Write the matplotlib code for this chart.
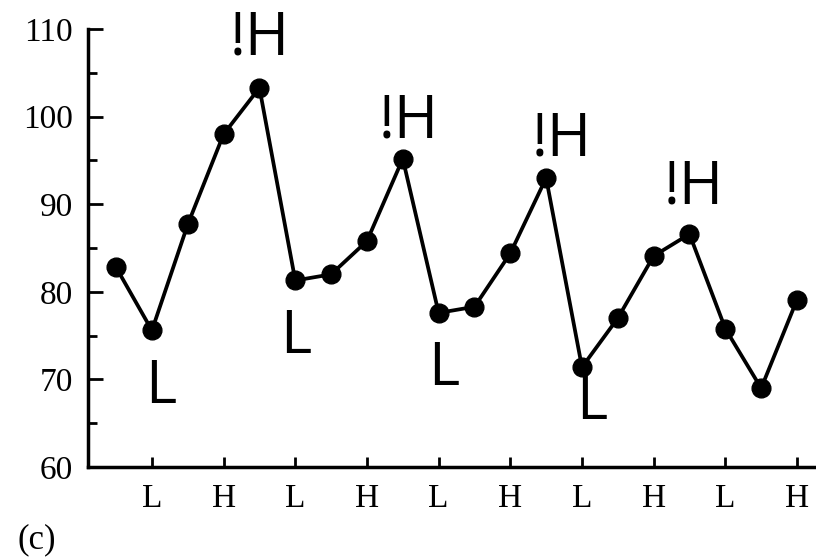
"""
Pitch track with tonal labels (panel c)
"""
import matplotlib
matplotlib.use('Agg')
import matplotlib.pyplot as plt
from matplotlib.ticker import MultipleLocator

# syllable index and f0 values
positions = [1, 2, 3, 4, 5, 6, 7, 8, 9, 10, 11, 12, 13, 14, 15, 16, 17, 18, 19, 20]
f0_values = [82.8, 75.6, 87.7, 98.0, 103.3, 81.3, 82.0, 85.8, 95.2, 77.6,
             78.3, 84.4, 93.0, 71.4, 77.0, 84.1, 86.6, 75.8, 69.0, 79.1]

tick_positions = [2, 4, 6, 8, 10, 12, 14, 16, 18, 20]
tick_labels = ['L', 'H', 'L', 'H', 'L', 'H', 'L', 'H', 'L', 'H']

# tone annotations: (label, point index, dx, dy) baseline offsets in points
tone_marks = [
    ('!H', 5, 0, 24), ('!H', 9, 4, 15), ('!H', 13, 11, 16.5), ('!H', 17, 3, 22),
    ('L', 2, 6, -52.5), ('L', 6, 0, -52), ('L', 10, 4, -52), ('L', 14, 7, -37),
]

serif = 'Liberation Serif'
sans = 'Open Sans'

fig = plt.figure(figsize=(8.16, 5.6), dpi=100)
ax = fig.add_axes([0.108, 0.166, 0.892, 0.782])

ax.plot(positions, f0_values, color='black', linewidth=2.7,
        marker='o', markersize=13.5, markerfacecolor='black', markeredgecolor='black')

for label, idx, dx, dy in tone_marks:
    ax.annotate(label, (positions[idx - 1], f0_values[idx - 1]),
                xytext=(dx, dy), textcoords='offset points',
                ha='center', va='baseline', fontsize=43, family=sans, color='black')

ax.set_xlim(0.22, 20.53)
ax.set_ylim(60, 110)

ax.spines['top'].set_visible(False)
ax.spines['right'].set_visible(False)
ax.spines['left'].set_linewidth(2.5)
ax.spines['bottom'].set_linewidth(2.5)

ax.yaxis.set_major_locator(MultipleLocator(10))
ax.yaxis.set_minor_locator(MultipleLocator(5))
ax.set_xticks(tick_positions)
ax.set_xticklabels(tick_labels)

ax.tick_params(axis='y', which='major', direction='in', length=11, width=2,
               pad=11, labelsize=24)
ax.tick_params(axis='y', which='minor', direction='in', length=6.5, width=2)
ax.tick_params(axis='x', which='major', direction='in', length=7, width=2,
               pad=12, labelsize=24)
for lab in ax.get_xticklabels() + ax.get_yticklabels():
    lab.set_family(serif)

fig.text(0.021, 0.036, '(c)', fontsize=25, family=serif, ha='left', va='center')

plt.savefig('out.png', dpi=100)
